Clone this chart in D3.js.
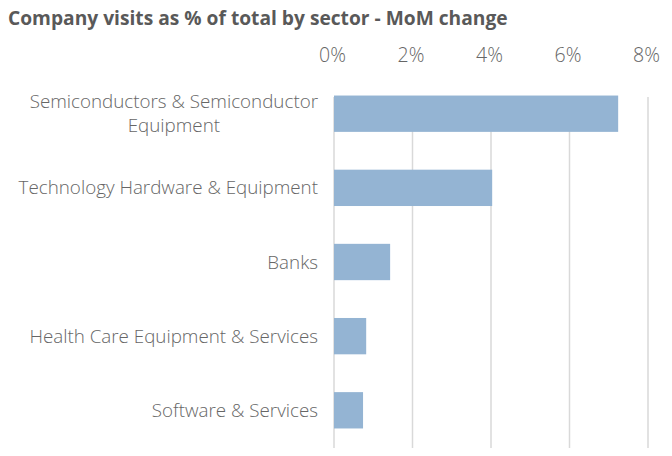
<!DOCTYPE html>
<html>
<head>
<meta charset="utf-8">
<script src="https://cdn.jsdelivr.net/npm/d3@7.9.0/dist/d3.min.js"></script>
<style>
  body { margin: 0; background: #fff; }
  svg { display: block; font-family: "Open Sans", "Noto Sans", sans-serif; }
</style>
</head>
<body>
<svg id="chart"></svg>
<script>
// Data
const sectors = [
    "Semiconductors & Semiconductor Equipment",
    "Technology Hardware & Equipment",
    "Banks",
    "Health Care Equipment & Services",
    "Software & Services"
];
const momChange = [0.0724, 0.0403, 0.0143, 0.0082, 0.0074];
const xTicks = [0, 0.02, 0.04, 0.06, 0.08];

const width = 672, height = 456;
const plot = { left: 334, right: 648, top: 97, bottom: 448 };

const svg = d3.select("#chart")
    .attr("width", width)
    .attr("height", height);

const x = d3.scaleLinear()
    .domain([0, 0.08])
    .range([plot.left, plot.right]);

const y = d3.scaleBand()
    .domain(sectors)
    .range([77, 447])
    .paddingInner(0.51)
    .paddingOuter(0.25);

// Title
svg.append("text")
    .attr("x", 8)
    .attr("y", 25)
    .style("font-size", "19.2px")
    .style("font-weight", "bold")
    .attr("fill", "#595959")
    .text("Company visits as % of total by sector - MoM change");

// Gridlines
svg.append("g")
    .selectAll("line")
    .data(xTicks)
    .enter()
    .append("line")
    .attr("x1", d => x(d))
    .attr("x2", d => x(d))
    .attr("y1", plot.top)
    .attr("y2", plot.bottom)
    .attr("stroke", "#d9d9d9")
    .attr("stroke-width", 1.5);

// Top axis labels
const xAxis = svg.append("g")
    .attr("transform", "translate(0,55)")
    .call(d3.axisTop(x).tickValues(xTicks).tickFormat(d3.format(".0%")).tickSize(0).tickPadding(0));
xAxis.select(".domain").remove();
xAxis.selectAll("text")
    .attr("y", 0)
    .attr("dy", "0.35em")
    .attr("dx", -2)
    .attr("fill", "#666")
    .style("font-size", "19.5px")
    .style("font-weight", 300)
    .style("font-family", "'Open Sans', sans-serif");

// Bars
svg.append("g")
    .selectAll("rect")
    .data(sectors)
    .enter()
    .append("rect")
    .attr("x", x(0))
    .attr("y", d => y(d))
    .attr("width", (d, i) => x(momChange[i]) - x(0))
    .attr("height", y.bandwidth())
    .attr("fill", "#94b4d3");

// Category labels, wrapped and centred as a block to the left of the axis
const labelRight = 318;
const lineHeight = 24;
const labels = svg.append("g")
    .style("font-size", "18.8px")
    .style("font-weight", 300)
    .attr("fill", "#666");

sectors.forEach(name => {
    const words = name.split(" ");
    const lines = [];
    let current = [];
    const probe = labels.append("text");
    words.forEach(w => {
        const trial = current.concat(w).join(" ");
        probe.text(trial);
        if (probe.node().getComputedTextLength() > 310 && current.length) {
            lines.push(current.join(" "));
            current = [w];
        } else {
            current.push(w);
        }
    });
    lines.push(current.join(" "));
    probe.remove();

    const t = labels.append("text");
    const cy = y(name) + y.bandwidth() / 2;
    const spans = lines.map((ln, i) => t.append("tspan")
        .attr("y", cy + (i - (lines.length - 1) / 2) * lineHeight)
        .attr("dy", "0.35em")
        .text(ln));
    const blockW = d3.max(spans, s => s.node().getComputedTextLength());
    spans.forEach(s => s
        .attr("x", labelRight - blockW / 2)
        .attr("text-anchor", "middle"));
});
</script>
</body>
</html>
